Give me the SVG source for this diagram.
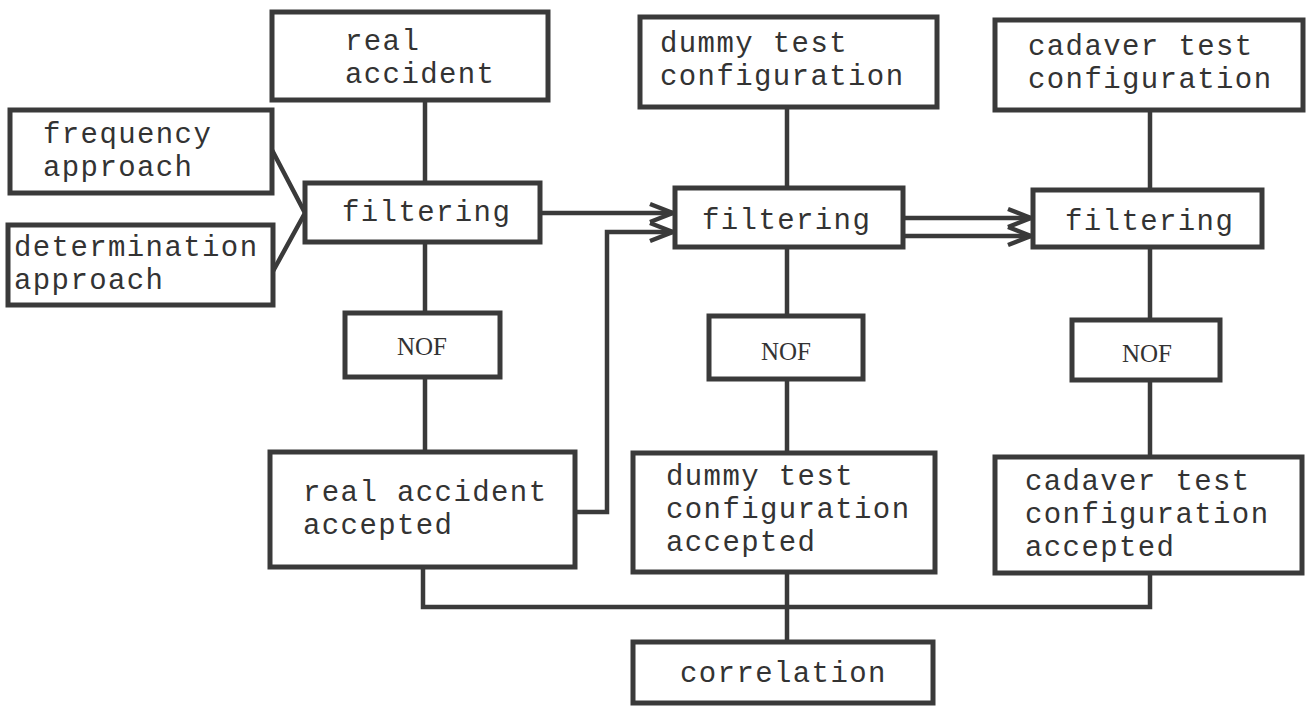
<svg xmlns="http://www.w3.org/2000/svg" width="1310" height="707" viewBox="0 0 1310 707">
<style>
.box{fill:#fff;stroke:#3a3a3a;stroke-width:5}
.ln{fill:none;stroke:#3a3a3a;stroke-width:4.5}
.t{font-family:"Liberation Mono","DejaVu Sans Mono",monospace;font-size:29px;letter-spacing:1.4px;fill:#333}
.s{font-family:"Liberation Serif","DejaVu Serif",serif;font-size:25px;fill:#333}
</style>
<defs>
<marker id="ah" markerUnits="userSpaceOnUse" markerWidth="30" markerHeight="24" refX="26" refY="12" orient="auto" viewBox="0 0 30 24">
<path d="M3,3 L26,12 L3,21" fill="none" stroke="#3a3a3a" stroke-width="4.5"/>
</marker>
</defs>
<rect width="1310" height="707" fill="#fff"/>
<g id="connectors">
<path class="ln" d="M425,100 V183 M425,242 V313 M425,377 V452"/>
<path class="ln" d="M787,107 V188 M787,247 V316 M787,379 V453 M787,572 V642"/>
<path class="ln" d="M1150,110 V190 M1150,247 V320 M1150,380 V457"/>
<path class="ln" d="M423,567 V607 H1150 V573"/>
<path class="ln" d="M272,150 L305,213 L272,273"/>
<path class="ln" d="M540,213 H673" marker-end="url(#ah)"/>
<path class="ln" d="M575,512 H607 V232 H673" marker-end="url(#ah)"/>
<path class="ln" d="M903,218 H1031" marker-end="url(#ah)"/>
<path class="ln" d="M903,236 H1031" marker-end="url(#ah)"/>
</g>
<g id="real_accident"><rect class="box" x="272" y="12" width="276" height="88"/><text class="t" x="345" y="50">real</text><text class="t" x="345" y="83">accident</text></g>
<g id="dummy_config"><rect class="box" x="640" y="17" width="297" height="90"/><text class="t" x="660" y="52">dummy test</text><text class="t" x="660" y="85">configuration</text></g>
<g id="cadaver_config"><rect class="box" x="995" y="20" width="308" height="90"/><text class="t" x="1028" y="55">cadaver test</text><text class="t" x="1028" y="88">configuration</text></g>
<g id="frequency"><rect class="box" x="10" y="110" width="262" height="83"/><text class="t" x="43" y="143">frequency</text><text class="t" x="43" y="176">approach</text></g>
<g id="determination"><rect class="box" x="8" y="225" width="265" height="80"/><text class="t" x="14" y="256">determination</text><text class="t" x="14" y="289">approach</text></g>
<g id="filtering1"><rect class="box" x="305" y="183" width="235" height="59"/><text class="t" x="342" y="221">filtering</text></g>
<g id="filtering2"><rect class="box" x="675" y="188" width="228" height="59"/><text class="t" x="702" y="229">filtering</text></g>
<g id="filtering3"><rect class="box" x="1033" y="190" width="229" height="57"/><text class="t" x="1065" y="230">filtering</text></g>
<g id="nof1"><rect class="box" x="345" y="313" width="155" height="64"/><text class="s" x="422" y="355" text-anchor="middle">NOF</text></g>
<g id="nof2"><rect class="box" x="709" y="316" width="154" height="63"/><text class="s" x="786" y="360" text-anchor="middle">NOF</text></g>
<g id="nof3"><rect class="box" x="1072" y="320" width="148" height="60"/><text class="s" x="1147" y="362" text-anchor="middle">NOF</text></g>
<g id="real_accepted"><rect class="box" x="270" y="452" width="305" height="115"/><text class="t" x="303" y="501">real accident</text><text class="t" x="303" y="534">accepted</text></g>
<g id="dummy_accepted"><rect class="box" x="633" y="453" width="302" height="119"/><text class="t" x="666" y="485">dummy test</text><text class="t" x="666" y="518">configuration</text><text class="t" x="666" y="551">accepted</text></g>
<g id="cadaver_accepted"><rect class="box" x="995" y="457" width="307" height="116"/><text class="t" x="1025" y="490">cadaver test</text><text class="t" x="1025" y="523">configuration</text><text class="t" x="1025" y="556">accepted</text></g>
<g id="correlation"><rect class="box" x="633" y="642" width="300" height="61"/><text class="t" x="680" y="682">correlation</text></g>
</svg>
